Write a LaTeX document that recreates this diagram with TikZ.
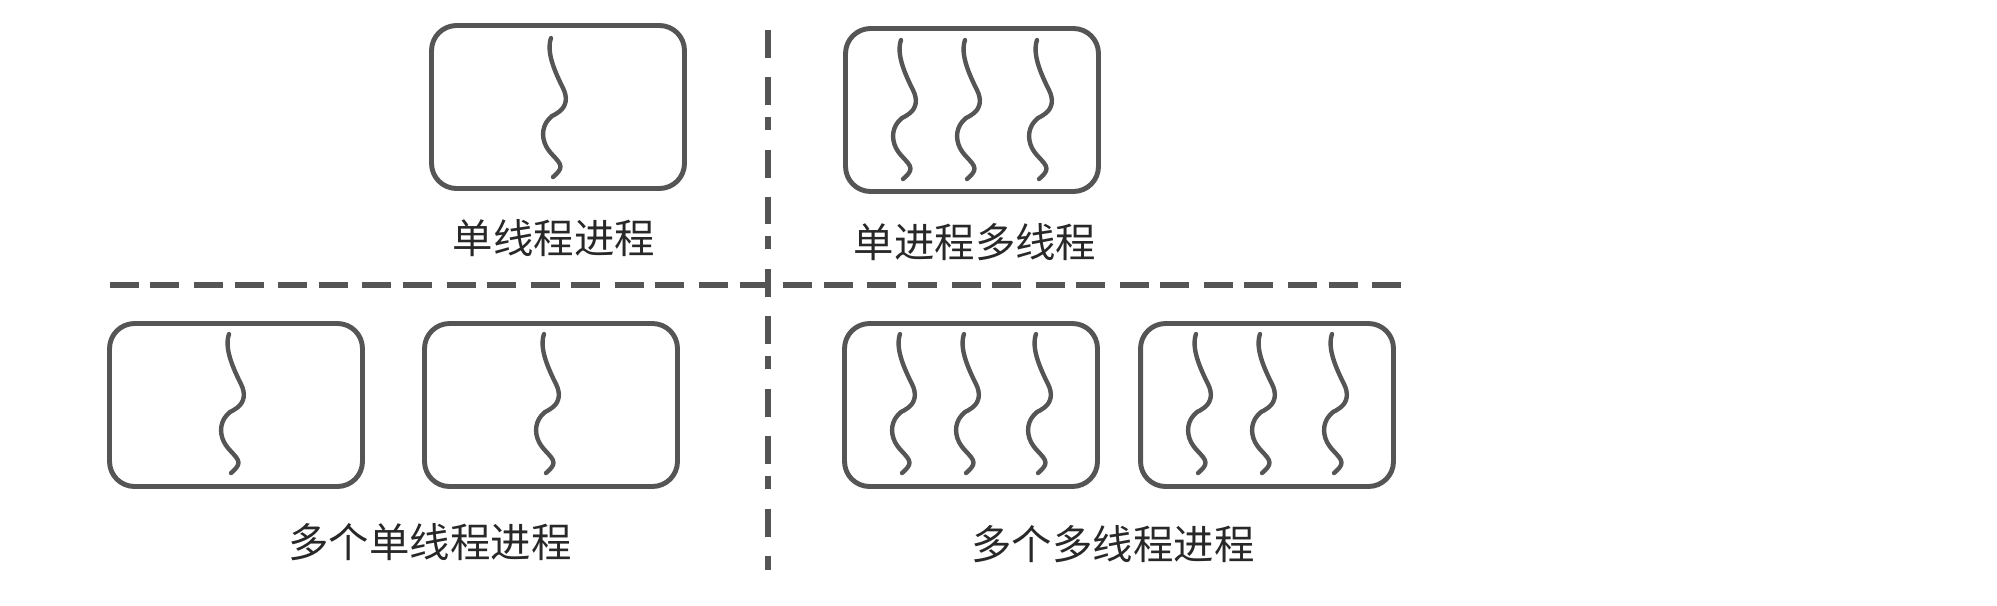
\documentclass[tikz,border=0pt]{standalone}
\usepackage{fontspec}
\usepackage{xcolor}
\usepackage{tikz}
\usetikzlibrary{positioning}
\newfontfamily\cjk{Noto Sans CJK SC}
\definecolor{boxgray}{RGB}{85, 85, 85}
\definecolor{textgray}{RGB}{40, 40, 40}
\tikzset{
    procbox/.style={draw=boxgray, line width=2.8pt, rounded corners=0.5cm, minimum width=5.06cm, minimum height=3.26cm, inner sep=0pt},
    threadline/.style={draw=boxgray, line width=2.5pt, line cap=round},
    proclabel/.style={text=textgray, font=\cjk\fontsize{23pt}{27pt}\selectfont, inner sep=0pt},
    hdash/.style={draw=boxgray, line width=3.2pt, dash pattern=on 16.5pt off 6.5pt on 16.5pt off 8.4pt},
    vdash/.style={draw=boxgray, line width=3pt, dash pattern=on 15.9pt off 10.8pt on 15.9pt off 6.8pt on 7.4pt off 11.3pt},
    thread/.pic={
        \draw[threadline] (0,0) .. controls (-5,14) and (4,34) .. (12,50)
            .. controls (17,60) and (15,68) .. (9,73)
            .. controls (5,76) and (3,77) .. (1,78)
            .. controls (-9,86) and (-10,98) .. (-5,108)
            .. controls (0,118) and (12,124) .. (9,131)
            .. controls (7,135) and (4,137) .. (2,139);
    }
}
\begin{document}
\begin{tikzpicture}[x=0.02cm, y=-0.02cm]
        \useasboundingbox (0,0) rectangle (1997,605);
        % processes
        \node[procbox] (single) at (558,107) {};
        \node[procbox] (multi) at (972,110) {};
        \node[procbox] (singleA) at (236,405) {};
        \node[procbox] (singleB) at (551,405) {};
        \node[procbox] (multiA) at (971,405) {};
        \node[procbox] (multiB) at (1267,405) {};
        % threads
        \path (single.north) ++(-7,15) pic {thread};
        \foreach \dx in {-71,-7,65}
            \path (multi.north) ++(\dx,14) pic {thread};
        \path (singleA.north) ++(-7,13) pic {thread};
        \path (singleB.north) ++(-7,13) pic {thread};
        \foreach \dx in {-71,-7,65} {
            \path (multiA.north) ++(\dx,13) pic {thread};
            \path (multiB.north) ++(\dx,13) pic {thread};
        }
        % labels
        \node[proclabel] (singlelabel) at (554,238) {单线程进程};
        \node[proclabel] (multilabel) at (975,242) {单进程多线程};
        \node[proclabel] (singleslabel) at (430,542) {多个单线程进程};
        \node[proclabel] (multislabel) at (1113,544) {多个多线程进程};
        % dividers
        \coordinate (hstart) at (110,285);
        \coordinate (hend) at (1401,285);
        \coordinate (vtop) at (768,30);
        \coordinate (vbot) at (768,570);
        \draw[hdash] (hstart) -- (hend);
        \draw[vdash] (vtop) -- (vbot);
    \end{tikzpicture}
\end{document}
